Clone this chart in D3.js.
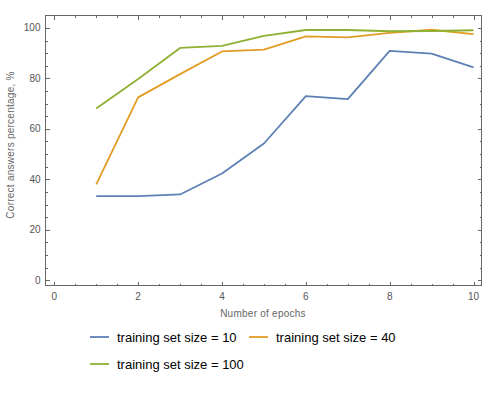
<!DOCTYPE html>
<html lang="en">
<head>
<meta charset="utf-8">
<script src="https://cdn.jsdelivr.net/npm/d3@7"></script>
<style>
  body { margin: 0; background: #fff; }
  .axis line { stroke: #666; shape-rendering: crispEdges; }
  .tl { font-family: "Liberation Sans", Arial, sans-serif; font-size: 10px; fill: #555; }
  .lbl { font-family: "Liberation Sans", Arial, sans-serif; font-size: 10px; letter-spacing: 0.25px; fill: #666; }
  .leg { font-family: "Liberation Sans", Arial, sans-serif; font-size: 13px; fill: #000; }
</style>
</head>
<body>
<script>
var epochs = [1, 2, 3, 4, 5, 6, 7, 8, 9, 10];
var size10 = [33.3, 33.3, 34.0, 42.3, 54.2, 73.0, 71.8, 90.9, 89.8, 84.4];
var size40 = [38.0, 72.5, 81.7, 90.7, 91.4, 96.7, 96.3, 98.1, 99.3, 97.6];
var size100 = [68.1, 79.8, 92.1, 92.9, 96.9, 99.2, 99.2, 98.7, 98.8, 99.1];
var seriesNames = ["training set size = 10", "training set size = 40", "training set size = 100"];
var colors = ["#5E81B5", "#E19C24", "#8FB032"];
var xTicks = [0, 2, 4, 6, 8, 10];
var yTicks = [0, 20, 40, 60, 80, 100];

var w = 503, h = 395;
var pLeft = 45.5, pRight = 481.5, pTop = 15.5, pBottom = 285.5;

var svg = d3.select("body").append("svg").attr("width", w).attr("height", h);

var x = d3.scaleLinear().domain([-0.21, 10.19]).range([pLeft, pRight]);
var y = d3.scaleLinear().domain([-2.1, 104.95]).range([pBottom, pTop]);

// minor ticks
var xMinor = d3.range(0, 10.01, 0.5).filter(function(d) { return xTicks.indexOf(d) < 0; });
var yMinor = d3.range(0, 104, 5).filter(function(d) { return yTicks.indexOf(d) < 0; });

function drawTicks(gen, tr, major, minor) {
  var g = svg.append("g").attr("class", "axis").attr("transform", tr);
  g.call(gen.tickValues(major).tickSize(4).tickSizeOuter(0).tickFormat(""));
  g.select(".domain").remove();
  var gm = svg.append("g").attr("class", "axis").attr("transform", tr);
  gm.call(gen.tickValues(minor).tickSize(2).tickFormat(""));
  gm.select(".domain").remove();
}

drawTicks(d3.axisTop(x), "translate(0," + pBottom + ")", xTicks, xMinor);
drawTicks(d3.axisBottom(x), "translate(0," + pTop + ")", xTicks, xMinor);
drawTicks(d3.axisRight(y), "translate(" + pLeft + ",0)", yTicks, yMinor);
drawTicks(d3.axisLeft(y), "translate(" + pRight + ",0)", yTicks, yMinor);

svg.append("g").selectAll("text").data(xTicks).enter().append("text")
  .attr("class", "tl").attr("x", function(d) { return x(d); }).attr("y", pBottom + 14)
  .attr("text-anchor", "middle").text(function(d) { return d; });
svg.append("g").selectAll("text").data(yTicks).enter().append("text")
  .attr("class", "tl").attr("x", pLeft - 5).attr("y", function(d) { return y(d) + 3.5; })
  .attr("text-anchor", "end").text(function(d) { return d; });

// frame
svg.append("rect").attr("x", pLeft).attr("y", pTop).attr("width", pRight - pLeft).attr("height", pBottom - pTop)
  .attr("fill", "none").attr("stroke", "#666").attr("stroke-width", 1);

var line = d3.line().x(function(d, i) { return x(epochs[i]); }).y(function(d) { return y(d); });

[size10, size40, size100].forEach(function(s, k) {
  svg.append("path").datum(s).attr("d", line).attr("fill", "none")
    .attr("stroke", colors[k]).attr("stroke-width", 1.8).attr("stroke-linejoin", "round");
});

svg.append("text").attr("class", "lbl").attr("text-anchor", "middle")
  .attr("x", 263).attr("y", 317).text("Number of epochs");
svg.append("text").attr("class", "lbl").attr("text-anchor", "middle")
  .attr("transform", "translate(13.5,145) rotate(-90)").text("Correct answers percentage, %");

// legend
var legPos = [[90, 337], [249, 337], [90, 364]];
seriesNames.forEach(function(n, k) {
  var p = legPos[k];
  svg.append("line").attr("x1", p[0]).attr("x2", p[0] + 19).attr("y1", p[1]).attr("y2", p[1])
    .attr("stroke", colors[k]).attr("stroke-width", 1.8);
  svg.append("text").attr("class", "leg").attr("x", p[0] + 27).attr("y", p[1] + 4.5).text(n);
});
</script>
</body>
</html>
